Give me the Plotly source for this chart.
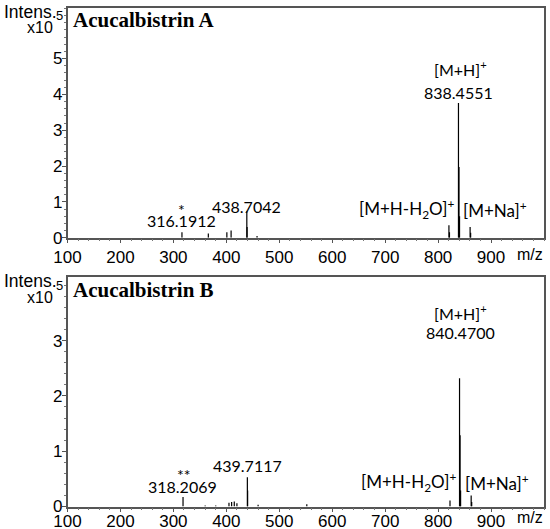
import plotly.graph_objects as go

# ---- data (intensity in units of 1e5) ----
mz_A = [316.19, 366.0, 401.0, 409.0, 438.70, 439.20, 458.0, 820.44, 821.44, 838.46, 839.46, 840.46, 860.44, 861.44]
int_A = [0.15, 0.12, 0.15, 0.20, 0.74, 0.30, 0.05, 0.35, 0.15, 3.76, 1.97, 0.60, 0.30, 0.14]

mz_B = [318.21, 360.0, 380.0, 405.0, 410.0, 415.0, 420.0, 439.71, 440.21, 460.0, 552.0, 822.46, 840.47, 841.47, 842.47, 862.45, 863.45]
int_B = [0.17, 0.02, 0.02, 0.07, 0.08, 0.09, 0.06, 0.53, 0.29, 0.03, 0.04, 0.11, 2.32, 1.29, 0.29, 0.20, 0.08]

x_ticks = [100, 200, 300, 400, 500, 600, 700, 800, 900]
yticks_A = [0, 1, 2, 3, 4, 5]
yticks_B = [0, 1, 2, 3]

titles = ["Acucalbistrin A", "Acucalbistrin B"]
labels_A = [("[M+H]<sup>+</sup>", 842, 4.73), ("838.4551", 839, 4.06), ("438.7042", 439, 0.88),
            ("*", 316, 0.80), ("316.1912", 316, 0.47),
            ("[M+H-H<sub>2</sub>O]<sup>+</sup>", 740, 0.80), ("[M+Na]<sup>+</sup>", 908, 0.80)]
labels_B = [("[M+H]<sup>+</sup>", 842, 3.50), ("840.4700", 842, 3.15), ("439.7117", 440, 0.75),
            ("**", 320, 0.58), ("318.2069", 318, 0.37),
            ("[M+H-H<sub>2</sub>O]<sup>+</sup>", 744, 0.44), ("[M+Na]<sup>+</sup>", 911, 0.44)]

W, H = 550, 529


def px(xp):
    return xp / W


def py(yp):
    return 1 - yp / H


def sticks(mz, inten):
    xs, ys = [], []
    for m, v in zip(mz, inten):
        xs += [m, m, None]
        ys += [0, v, None]
    return xs, ys


fig = go.Figure()
xa, ya = sticks(mz_A, int_A)
xb, yb = sticks(mz_B, int_B)
fig.add_trace(go.Scatter(x=xa, y=ya, mode="lines", line=dict(color="black", width=1.2),
                         xaxis="x", yaxis="y", showlegend=False, hoverinfo="skip"))
fig.add_trace(go.Scatter(x=xb, y=yb, mode="lines", line=dict(color="black", width=1.2),
                         xaxis="x2", yaxis="y2", showlegend=False, hoverinfo="skip"))

tickfont = dict(family="Liberation Sans, Arial", size=17, color="black")
xdom = [px(67.5), px(544)]
axcommon = dict(showgrid=False, zeroline=False, showline=True, linecolor="#555", linewidth=1.5,
                mirror=True, ticks="outside", ticklen=4, tickcolor="#555", tickfont=tickfont,
                automargin=False)
minor_x = dict(dtick=20, ticks="outside", ticklen=2, tickcolor="#777", showgrid=False)
minor_y = dict(dtick=0.2, ticks="outside", ticklen=2, tickcolor="#777", showgrid=False)

fig.update_layout(
    width=W, height=H, margin=dict(l=0, r=0, t=0, b=0, pad=0, autoexpand=False),
    paper_bgcolor="white", plot_bgcolor="white",
    xaxis=dict(domain=xdom, range=[100, 1000], anchor="y", tickvals=x_ticks, minor=minor_x,
               ticklabelstandoff=-1, **axcommon),
    yaxis=dict(domain=[py(237.7), py(8)], range=[0, 6.41], anchor="x", tickvals=yticks_A,
               minor=minor_y, ticklabelstandoff=-4, **axcommon),
    xaxis2=dict(domain=xdom, range=[100, 1000], anchor="y2", tickvals=x_ticks, minor=minor_x,
                ticklabelstandoff=-6, **axcommon),
    yaxis2=dict(domain=[py(506.5), py(277)], range=[0, 4.15], anchor="x2", tickvals=yticks_B,
                minor=minor_y, ticklabelstandoff=-4, **axcommon),
)

annfont = dict(family="Lato, Open Sans, sans-serif", size=16, color="black")
anns = []
for lbls, xr, yr in [(labels_A, "x", "y"), (labels_B, "x2", "y2")]:
    for t, x, y in lbls:
        f = dict(annfont)
        if t.startswith("[M+H-") or t.startswith("[M+Na"):
            f["size"] = 17
        anns.append(dict(text=t, x=x, y=y, xref=xr, yref=yr, showarrow=False, font=f,
                         xanchor="center", yanchor="middle"))

for title, ypx, ipx in [(titles[0], 20, 11), (titles[1], 290, 280)]:
    anns.append(dict(text="<b>" + title + "</b>", x=px(71), y=py(ypx), xref="paper", yref="paper",
                     showarrow=False, xanchor="left", yanchor="middle",
                     font=dict(family="Liberation Serif, Times New Roman", size=21, color="black")))
    anns.append(dict(text="Intens.", x=px(58), y=py(ipx + 1), xref="paper", yref="paper",
                     showarrow=False, xanchor="right", yanchor="middle", borderpad=0,
                     font=dict(family="Liberation Sans, Arial", size=17.5, color="black")))
    anns.append(dict(text="x10", x=px(55), y=py(ipx + 17), xref="paper", yref="paper",
                     showarrow=False, xanchor="right", yanchor="middle",
                     font=dict(family="Liberation Sans, Arial", size=16, color="black")))
    anns.append(dict(text="5", x=px(54), y=py(ipx + 5), xref="paper", yref="paper",
                     showarrow=False, xanchor="left", yanchor="middle",
                     font=dict(family="Liberation Sans, Arial", size=13, color="black")))

for ypx in [255, 517]:
    anns.append(dict(text="m/z", x=px(530), y=py(ypx), xref="paper", yref="paper",
                     showarrow=False, xanchor="center", yanchor="middle",
                     font=dict(family="Liberation Sans, Arial", size=16, color="black")))

fig.update_layout(annotations=anns)
fig.write_html("out.html", config={"displayModeBar": False},
               post_script="document.body.style.margin='0px';document.body.style.padding='0px';")
